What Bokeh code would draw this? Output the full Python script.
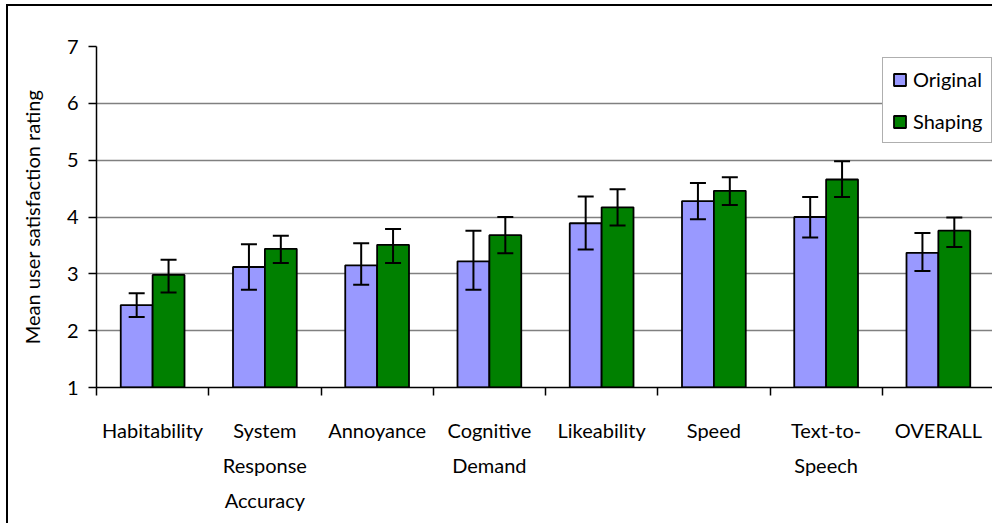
from bokeh.plotting import figure
from bokeh.models import ColumnDataSource, Whisker, FixedTicker, Legend, LegendItem, TeeHead
from bokeh.embed import file_html
from bokeh.resources import INLINE

categories = ["Habitability", "System\nResponse\nAccuracy", "Annoyance", "Cognitive\nDemand",
              "Likeability", "Speed", "Text-to-\nSpeech", "OVERALL"]
original = [2.45, 3.12, 3.15, 3.22, 3.89, 4.28, 4.00, 3.37]
original_lo = [2.24, 2.72, 2.81, 2.72, 3.43, 3.96, 3.64, 3.05]
original_hi = [2.66, 3.52, 3.54, 3.76, 4.36, 4.60, 4.35, 3.72]
shaping = [2.98, 3.44, 3.51, 3.68, 4.17, 4.46, 4.66, 3.76]
shaping_lo = [2.67, 3.19, 3.19, 3.36, 3.85, 4.21, 4.35, 3.47]
shaping_hi = [3.25, 3.67, 3.79, 4.00, 4.49, 4.70, 4.98, 3.99]
y_ticks = [1, 2, 3, 4, 5, 6, 7]

FONT = "Lato"
FS = "20px"
BAR_W = 0.284
n = len(categories)
xc = [i + 0.5 for i in range(n)]
x_orig = [x - BAR_W / 2 for x in xc]
x_shap = [x + BAR_W / 2 for x in xc]

p = figure(width=986, height=519, x_range=(0, n), y_range=(1, 7),
           output_backend="svg", toolbar_location=None,
           min_border_left=88, min_border_right=0, min_border_top=40, min_border_bottom=138)
p.styles = {"border-style": "solid none none solid", "border-width": "2px",
            "border-color": "black", "margin-left": "6px", "margin-top": "4px"}
p.outline_line_color = None
p.background_fill_color = "white"

src_o = ColumnDataSource(dict(x=x_orig, top=original, lo=original_lo, hi=original_hi))
src_s = ColumnDataSource(dict(x=x_shap, top=shaping, lo=shaping_lo, hi=shaping_hi))

r_o = p.vbar(x="x", top="top", bottom=1, width=BAR_W, source=src_o,
             fill_color="#9999FF", line_color="black", line_width=1.8)
r_s = p.vbar(x="x", top="top", bottom=1, width=BAR_W, source=src_s,
             fill_color="#008000", line_color="black", line_width=1.8)

for src in (src_o, src_s):
    w = Whisker(base="x", upper="hi", lower="lo", source=src, level="overlay",
                line_color="black", line_width=2,
                upper_head=TeeHead(size=16, line_width=2, line_color="black"),
                lower_head=TeeHead(size=16, line_width=2, line_color="black"))
    p.add_layout(w)

# axes
p.xgrid.grid_line_color = None
p.ygrid.grid_line_color = "#808080"
p.ygrid.grid_line_width = 1.3
p.yaxis.ticker = FixedTicker(ticks=y_ticks)
p.xaxis.ticker = FixedTicker(ticks=xc, minor_ticks=list(range(n + 1)))
p.xaxis.major_label_overrides = {x: c for x, c in zip(xc, categories)}
for ax in (p.xaxis, p.yaxis):
    ax.axis_line_color = "black"
    ax.axis_line_width = 1.5
    ax.major_tick_line_color = "black"
    ax.major_tick_line_width = 1.5
    ax.major_tick_in = 0
    ax.major_tick_out = 8
    ax.major_label_text_font = FONT
    ax.major_label_text_font_size = FS
    ax.major_label_text_color = "black"
p.yaxis.minor_tick_line_color = None
p.xaxis.major_tick_out = 0
p.xaxis.minor_tick_line_color = "black"
p.xaxis.minor_tick_line_width = 1.5
p.xaxis.minor_tick_in = 0
p.xaxis.minor_tick_out = 8
p.xaxis.major_label_text_line_height = 1.46
p.xaxis.major_label_standoff = 22
p.yaxis.major_label_standoff = 10
p.yaxis.axis_label = "Mean user satisfaction rating"
p.yaxis.axis_label_text_font = FONT
p.yaxis.axis_label_text_font_size = FS
p.yaxis.axis_label_text_font_style = "normal"
p.yaxis.axis_label_text_color = "black"
p.yaxis.axis_label_standoff = 20

legend = Legend(items=[LegendItem(label="Original", renderers=[r_o]),
                       LegendItem(label="Shaping", renderers=[r_s])],
                location=(786, 244))
legend.label_text_font = FONT
legend.label_text_font_size = FS
legend.label_text_color = "black"
legend.border_line_color = "#606060"
legend.border_line_width = 1.2
legend.padding = 9
legend.spacing = 18
legend.glyph_width = 15
legend.glyph_height = 15
legend.label_height = 21
legend.label_standoff = 6
legend.margin = 0
legend.background_fill_alpha = 1
p.add_layout(legend)

open("out.html", "w").write(file_html(p, INLINE))
